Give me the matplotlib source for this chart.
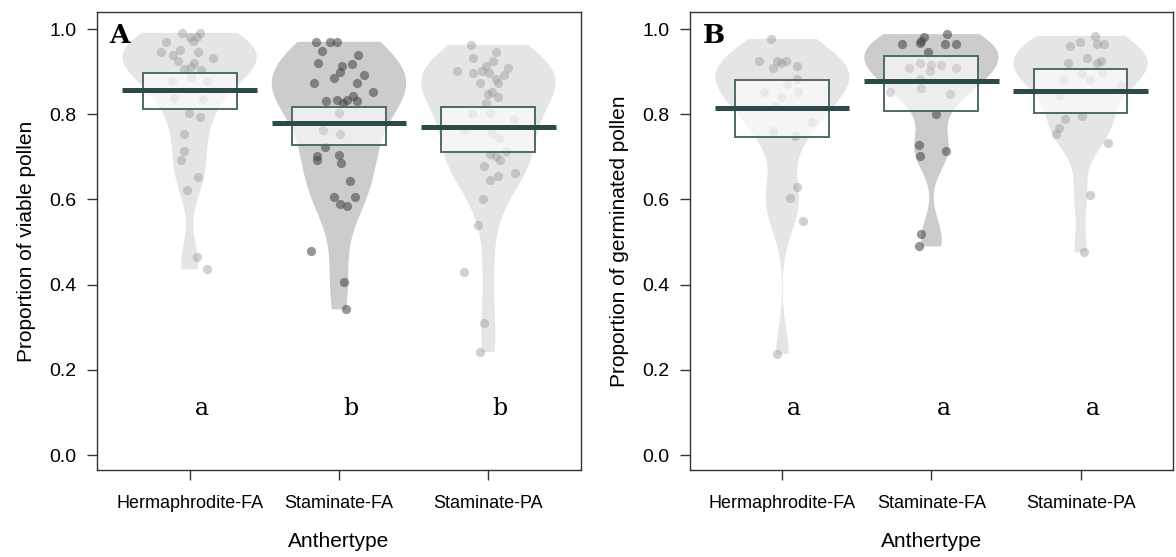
import numpy as np
import matplotlib
matplotlib.use("Agg")
import matplotlib.pyplot as plt

# --- data (pirate plots, two panels) ---
groups = ["Hermaphrodite-FA", "Staminate-FA", "Staminate-PA"]

# A: proportion of viable pollen, values and horizontal jitter
viable_herm = [0.991, 0.991, 0.982, 0.982, 0.970, 0.973, 0.947, 0.951, 0.939, 0.947,
               0.931, 0.926, 0.921, 0.912, 0.904, 0.906, 0.877, 0.879, 0.888, 0.838,
               0.835, 0.803, 0.793, 0.754, 0.713, 0.693, 0.653, 0.623, 0.464, 0.436]
viable_herm_jit = [-0.05, 0.067, 0.0, 0.05, -0.16, 0.025, -0.19, -0.065, -0.11, 0.058,
                   0.155, -0.08, 0.03, 0.007, 0.073, -0.04, -0.115, 0.113, 0.007, -0.105,
                   0.09, -0.005, 0.067, -0.04, -0.04, -0.06, 0.058, -0.015, 0.05, 0.113]
viable_stfa = [0.970, 0.970, 0.970, 0.949, 0.938, 0.921, 0.913, 0.917, 0.900, 0.886,
               0.892, 0.874, 0.874, 0.852, 0.830, 0.834, 0.834, 0.842, 0.830, 0.826,
               0.803, 0.762, 0.753, 0.723, 0.703, 0.693, 0.705, 0.685, 0.644, 0.606,
               0.606, 0.590, 0.584, 0.480, 0.406, 0.342]
viable_stfa_jit = [-0.153, -0.06, -0.015, -0.115, 0.125, -0.138, 0.018, 0.085, 0.007, -0.033,
                   0.167, 0.118, -0.167, 0.225, -0.087, -0.015, 0.055, 0.095, 0.118, 0.029,
                   0.002, -0.109, 0.007, -0.093, -0.145, -0.149, 0.002, 0.011, 0.073, -0.033,
                   0.107, 0.007, 0.051, -0.187, 0.033, 0.047]
viable_stpa = [0.963, 0.947, 0.931, 0.926, 0.902, 0.913, 0.896, 0.902, 0.909, 0.896,
               0.892, 0.873, 0.882, 0.874, 0.853, 0.848, 0.840, 0.827, 0.801, 0.804,
               0.789, 0.763, 0.757, 0.744, 0.714, 0.707, 0.701, 0.693, 0.679, 0.663,
               0.654, 0.645, 0.600, 0.539, 0.429, 0.311, 0.242]
viable_stpa_jit = [-0.113, 0.051, -0.104, 0.029, -0.209, -0.013, -0.104, -0.042, 0.131, 0.002,
                   0.107, -0.058, 0.053, 0.062, 0.025, -0.004, 0.062, -0.013, -0.109, 0.013,
                   0.175, -0.164, 0.024, 0.069, 0.118, 0.013, 0.053, 0.08, -0.027, 0.18,
                   0.062, 0.013, -0.036, -0.069, -0.164, -0.027, -0.053]

# B: proportion of germinated pollen
germ_herm = [0.977, 0.926, 0.924, 0.924, 0.908, 0.920, 0.914, 0.882, 0.853, 0.840,
             0.853, 0.870, 0.820, 0.783, 0.760, 0.748, 0.629, 0.603, 0.549, 0.238]
germ_herm_jit = [-0.076, -0.158, -0.038, 0.024, -0.06, -0.009, 0.096, 0.096, -0.12, -0.009,
                 0.102, 0.03, -0.05, 0.202, -0.065, 0.087, 0.096, 0.053, 0.136, -0.038]
germ_stfa = [0.982, 0.973, 0.968, 0.966, 0.988, 0.965, 0.966, 0.947, 0.921, 0.908,
             0.916, 0.902, 0.916, 0.908, 0.882, 0.861, 0.847, 0.853, 0.801, 0.728,
             0.703, 0.713, 0.520, 0.490]
germ_stfa_jit = [-0.051, -0.069, -0.08, -0.195, 0.102, 0.093, 0.165, -0.024, -0.075, -0.151,
                 -0.002, -0.013, 0.065, 0.165, -0.08, -0.069, 0.122, -0.28, 0.031, -0.085,
                 -0.08, 0.098, -0.069, -0.085]
germ_stpa = [0.984, 0.970, 0.960, 0.966, 0.966, 0.921, 0.931, 0.921, 0.926, 0.881,
             0.895, 0.881, 0.898, 0.869, 0.845, 0.797, 0.789, 0.767, 0.754, 0.732,
             0.610, 0.476]
germ_stpa_jit = [0.095, -0.002, -0.069, 0.109, 0.158, -0.087, 0.042, 0.113, 0.14, -0.12,
                 0.013, 0.065, 0.147, 0.269, -0.142, 0.007, -0.102, -0.142, -0.164, 0.185,
                 0.065, 0.02]

# means and inference bands
viable_mean = [0.857, 0.780, 0.770]
viable_lo = [0.813, 0.728, 0.712]
viable_hi = [0.897, 0.817, 0.817]
germ_mean = [0.815, 0.878, 0.855]
germ_lo = [0.747, 0.808, 0.803]
germ_hi = [0.880, 0.937, 0.906]

viable_letters = ["a", "b", "b"]
germ_letters = ["a", "a", "a"]

# --- style ---
BEAN = ["#e5e5e5", "#cccccc", "#e5e5e5"]
POINT = ["#9a9a9a", "#404040", "#9a9a9a"]
POINT_ALPHA = [0.45, 0.55, 0.45]
BOX_EDGE = "#4d6b6a"
AVG = "#2b4a48"
SPINE = "#333333"
SANS = "Liberation Sans"
SERIF = "DejaVu Serif"


def nrd0_factor(kde):
    """R's bw.nrd0 expressed as a scipy-style covariance factor."""
    d = kde.dataset.ravel()
    sd = d.std(ddof=1)
    q75, q25 = np.percentile(d, [75, 25])
    bw = 0.9 * min(sd, (q75 - q25) / 1.34) * len(d) ** -0.2
    return bw / sd


def pirate(ax, data, jit, means, lo, hi, letters, ylabel, tag):
    pos = np.arange(1, len(data) + 1)
    vp = ax.violinplot(data, positions=pos, widths=0.9, showextrema=False,
                       points=400, bw_method=nrd0_factor)
    for body, c in zip(vp["bodies"], BEAN):
        body.set_facecolor(c)
        body.set_edgecolor("none")
        body.set_alpha(1)
        body.set_zorder(1)
    for i, (vals, j) in enumerate(zip(data, jit)):
        ax.scatter(pos[i] + np.asarray(j), vals, s=44, color=POINT[i],
                   alpha=POINT_ALPHA[i], linewidths=0, zorder=2)
    ax.bar(pos, np.asarray(hi) - np.asarray(lo), bottom=lo, width=0.63,
           facecolor=(1, 1, 1, 0.65), edgecolor=BOX_EDGE, linewidth=1.4, zorder=3)
    ax.hlines(means, pos - 0.45, pos + 0.45, color=AVG, linewidth=3.6, zorder=4)
    for p, t in zip(pos, letters):
        ax.text(p + 0.08, 0.11, t, ha="center", va="center", fontsize=17,
                family=SERIF, zorder=5)
    ax.text(0.026, 0.932, tag, transform=ax.transAxes, fontsize=19,
            fontweight="bold", family=SERIF, va="baseline", ha="left", zorder=5)

    ax.set_xlim(0.38, 3.62)
    ax.set_ylim(-0.035, 1.04)
    ax.set_xticks(pos)
    ax.set_xticklabels(groups, family=SANS)
    yt = np.arange(0, 1.01, 0.2)
    ax.set_yticks(yt)
    ax.set_yticklabels([f"{v:.1f}" for v in yt], family=SANS)
    ax.tick_params(axis="both", direction="out", length=7, width=1, color=SPINE)
    ax.tick_params(axis="x", labelsize=13, pad=11)
    ax.tick_params(axis="y", labelsize=14, pad=8)
    for s in ax.spines.values():
        s.set_color(SPINE)
        s.set_linewidth(1.0)
    ax.set_xlabel("Anthertype", fontsize=15, family=SANS, labelpad=14)
    ax.set_ylabel(ylabel, fontsize=15, family=SANS, labelpad=9)


fig = plt.figure(figsize=(11.76, 5.57), dpi=100)
axA = fig.add_axes([0.0825, 0.156, 0.4115, 0.8225])
axB = fig.add_axes([0.5867, 0.156, 0.4107, 0.8225])

pirate(axA, [viable_herm, viable_stfa, viable_stpa],
       [viable_herm_jit, viable_stfa_jit, viable_stpa_jit],
       viable_mean, viable_lo, viable_hi, viable_letters,
       "Proportion of viable pollen", "A")
pirate(axB, [germ_herm, germ_stfa, germ_stpa],
       [germ_herm_jit, germ_stfa_jit, germ_stpa_jit],
       germ_mean, germ_lo, germ_hi, germ_letters,
       "Proportion of germinated pollen", "B")

fig.savefig("out.png", dpi=100)
